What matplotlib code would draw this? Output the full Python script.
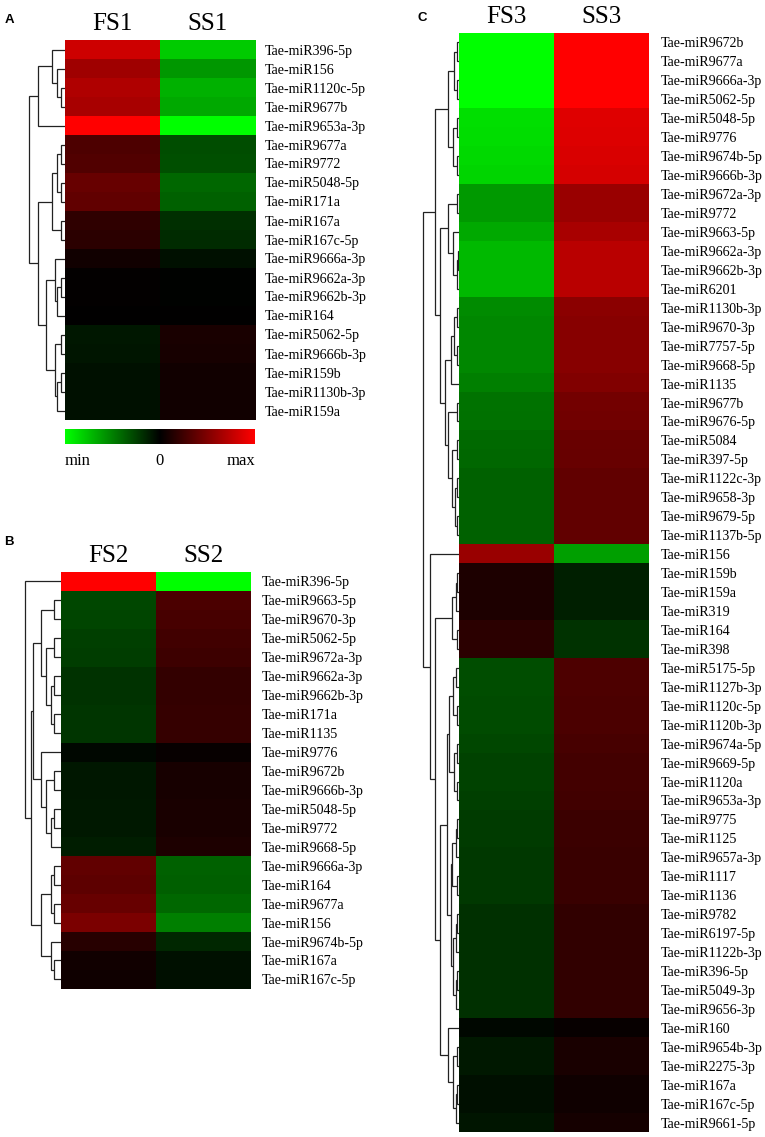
import numpy as np
import matplotlib
matplotlib.use("Agg")
import matplotlib.pyplot as plt
from matplotlib.colors import LinearSegmentedColormap

# ---------------- data ----------------
labels_A = ["Tae-miR396-5p", "Tae-miR156", "Tae-miR1120c-5p", "Tae-miR9677b", "Tae-miR9653a-3p",
            "Tae-miR9677a", "Tae-miR9772", "Tae-miR5048-5p", "Tae-miR171a", "Tae-miR167a",
            "Tae-miR167c-5p", "Tae-miR9666a-3p", "Tae-miR9662a-3p", "Tae-miR9662b-3p", "Tae-miR164",
            "Tae-miR5062-5p", "Tae-miR9666b-3p", "Tae-miR159b", "Tae-miR1130b-3p", "Tae-miR159a"]
fs1 = [0.80, 0.62, 0.68, 0.66, 1.00, 0.30, 0.32, 0.40, 0.38, 0.18,
       0.17, 0.07, 0.01, 0.01, 0.00, -0.09, -0.08, -0.07, -0.07, -0.07]
ss1 = [-0.79, -0.59, -0.69, -0.66, -1.00, -0.30, -0.31, -0.40, -0.38, -0.18,
       -0.17, -0.07, -0.01, -0.01, 0.00, 0.10, 0.09, 0.07, 0.07, 0.07]

labels_B = ["Tae-miR396-5p", "Tae-miR9663-5p", "Tae-miR9670-3p", "Tae-miR5062-5p", "Tae-miR9672a-3p",
            "Tae-miR9662a-3p", "Tae-miR9662b-3p", "Tae-miR171a", "Tae-miR1135", "Tae-miR9776",
            "Tae-miR9672b", "Tae-miR9666b-3p", "Tae-miR5048-5p", "Tae-miR9772", "Tae-miR9668-5p",
            "Tae-miR9666a-3p", "Tae-miR164", "Tae-miR9677a", "Tae-miR156", "Tae-miR9674b-5p",
            "Tae-miR167a", "Tae-miR167c-5p"]
fs2 = [1.00, -0.28, -0.27, -0.25, -0.24, -0.20, -0.20, -0.21, -0.21, -0.03,
       -0.09, -0.09, -0.10, -0.10, -0.11, 0.38, 0.36, 0.40, 0.48, 0.15,
       0.07, 0.06]
ss2 = [-1.00, 0.29, 0.28, 0.25, 0.24, 0.20, 0.20, 0.21, 0.21, 0.03,
       0.09, 0.09, 0.10, 0.10, 0.11, -0.38, -0.37, -0.40, -0.50, -0.15,
       -0.07, -0.06]

labels_C = ["Tae-miR9672b", "Tae-miR9677a", "Tae-miR9666a-3p", "Tae-miR5062-5p", "Tae-miR5048-5p",
            "Tae-miR9776", "Tae-miR9674b-5p", "Tae-miR9666b-3p", "Tae-miR9672a-3p", "Tae-miR9772",
            "Tae-miR9663-5p", "Tae-miR9662a-3p", "Tae-miR9662b-3p", "Tae-miR6201", "Tae-miR1130b-3p",
            "Tae-miR9670-3p", "Tae-miR7757-5p", "Tae-miR9668-5p", "Tae-miR1135", "Tae-miR9677b",
            "Tae-miR9676-5p", "Tae-miR5084", "Tae-miR397-5p", "Tae-miR1122c-3p", "Tae-miR9658-3p",
            "Tae-miR9679-5p", "Tae-miR1137b-5p", "Tae-miR156", "Tae-miR159b", "Tae-miR159a",
            "Tae-miR319", "Tae-miR164", "Tae-miR398", "Tae-miR5175-5p", "Tae-miR1127b-3p",
            "Tae-miR1120c-5p", "Tae-miR1120b-3p", "Tae-miR9674a-5p", "Tae-miR9669-5p", "Tae-miR1120a",
            "Tae-miR9653a-3p", "Tae-miR9775", "Tae-miR1125", "Tae-miR9657a-3p", "Tae-miR1117",
            "Tae-miR1136", "Tae-miR9782", "Tae-miR6197-5p", "Tae-miR1122b-3p", "Tae-miR396-5p",
            "Tae-miR5049-3p", "Tae-miR9656-3p", "Tae-miR160", "Tae-miR9654b-3p", "Tae-miR2275-3p",
            "Tae-miR167a", "Tae-miR167c-5p", "Tae-miR9661-5p"]
fs3 = [-1.00, -1.00, -1.00, -1.00, -0.87, -0.86, -0.85, -0.83, -0.60, -0.60,
       -0.66, -0.72, -0.72, -0.72, -0.54, -0.53, -0.53, -0.53, -0.50, -0.45,
       -0.44, -0.41, -0.40, -0.38, -0.38, -0.38, -0.38, 0.60, 0.11, 0.11,
       0.11, 0.17, 0.17, -0.30, -0.30, -0.29, -0.29, -0.28, -0.26, -0.26,
       -0.25, -0.23, -0.23, -0.22, -0.22, -0.22, -0.19, -0.19, -0.19, -0.19,
       -0.19, -0.19, -0.03, -0.10, -0.10, -0.06, -0.06, -0.08]
ss3 = [1.00, 1.00, 1.00, 1.00, 0.87, 0.86, 0.85, 0.83, 0.60, 0.60,
       0.66, 0.72, 0.72, 0.72, 0.54, 0.53, 0.53, 0.53, 0.50, 0.45,
       0.44, 0.41, 0.40, 0.38, 0.38, 0.38, 0.38, -0.62, -0.12, -0.12,
       -0.12, -0.20, -0.20, 0.30, 0.30, 0.29, 0.29, 0.28, 0.26, 0.26,
       0.25, 0.23, 0.23, 0.22, 0.22, 0.22, 0.19, 0.19, 0.19, 0.19,
       0.19, 0.19, 0.03, 0.10, 0.10, 0.06, 0.06, 0.08]

# dendrogram trees: (height, left, right); leaves are row indices
tree_A = (35.7,
          (26.7, (13.3, 0, (7.7, 1, (4.3, 2, 3))), 4),
          (26.7,
           (13.3, (7.7, (4.3, 5, 6), (4.3, 7, 8)), (4.3, 9, 10)),
           (19.0, (10.0, 11, (7.7, (4.3, 12, 13), 14)),
                  (10.0, (4.3, 15, 16), (7.7, (4.3, 17, 18), 19)))))

tree_B = (36.0, 0,
          (30.3,
           (27.7,
            (20.3, (7.0, 1, 2), (15.3, (7.0, 3, 4), (10.3, (7.0, 5, 6), (7.0, 7, 8)))),
            (20.3, 9, (15.3, (7.0, 10, 11), (10.3, (7.0, 12, 13), 14)))),
           (20.3, (10.3, (7.0, 15, 16), (7.0, 17, 18)), (10.3, 19, (7.0, 20, 21)))))

c_top = (24.0,
         (10.7, (5.0, (1.7, 0, 1), (1.7, 2, 3)), (6.0, (2.0, 4, 5), (2.0, 6, 7))),
         (19.0,
          (10.7, (1.7, 8, 9), (6.0, 10, (2.5, (1.5, 11, 12), 13))),
          (14.0,
           (8.3, (5.0, (1.7, 14, 15), (2.3, 16, 17)), 18),
           (10.7, (1.7, 19, 20), (6.7, (1.7, 21, 22), (4.0, (1.7, 23, 24), (1.7, 25, 26)))))))
c_bottom = (29.0, 27,
            (24.0,
             (7.3, (3.0, (1.7, 28, 29), 30), (1.7, 31, 32)),
             (19.0,
              (12.0,
               (10.0, (6.0, (3.0, 33, 34), (2.0, 35, 36)), (5.0, (2.0, 37, 38), (2.0, 39, 40))),
               (8.0, (7.0, (3.0, (2.0, 41, 42), 43), (2.0, 44, 45)),
                     (6.0, (3.0, (2.0, 46, 47), 48), (3.0, (2.0, 49, 50), 51)))),
              (10.7, 52, (6.0, (2.0, 53, 54), (3.0, (2.0, 55, 56), 57))))))
tree_C = (36.0, c_top, c_bottom)

# ---------------- drawing ----------------
W, H = 765, 1137
fig = plt.figure(figsize=(W / 100, H / 100), dpi=100)
cmap = LinearSegmentedColormap.from_list("gkr", [(0, 1, 0), (0, 0, 0), (1, 0, 0)])
SERIF = "Liberation Serif"
PT = 0.72  # points per pixel at 100 dpi


def px_axes(x0, y0, w, h):
    return fig.add_axes([x0 / W, 1 - (y0 + h) / H, w / W, h / H])


def draw_tree(ax, node):
    if isinstance(node, int):
        return node, 0.0
    h, left, right = node
    yl, hl = draw_tree(ax, left)
    yr, hr = draw_tree(ax, right)
    ax.plot([hl, h, h, hr], [yl, yl, yr, yr], color="#222222", lw=0.9,
            solid_joinstyle="miter", solid_capstyle="butt")
    return (yl + yr) / 2, h


def panel(x0, y0, labels, fs, ss, names, tree, rowh=18.95, pad=11):
    n = len(labels)
    hw = 190
    hh = n * rowh
    ax = px_axes(x0, y0, hw, hh)
    data = np.column_stack([fs, ss])
    ax.imshow(data, cmap=cmap, vmin=-1, vmax=1, aspect="auto", interpolation="nearest")
    ax.set_xticks([])
    ax.yaxis.tick_right()
    ax.set_yticks(range(n))
    ax.set_yticklabels(labels, fontsize=10.1, family=SERIF)
    ax.tick_params(axis="y", length=0, pad=pad * PT)
    for s in ax.spines.values():
        s.set_visible(False)
    for j, nm in enumerate(names):
        ax.annotate(nm, xy=(j, 1), xycoords=("data", "axes fraction"),
                    xytext=(0, 10 * PT), textcoords="offset points",
                    ha="center", va="baseline", fontsize=18, family=SERIF)
    # dendrogram
    dax = px_axes(x0 - 40, y0, 40, hh)
    draw_tree(dax, tree)
    dax.set_xlim(40, 0)
    dax.set_ylim(n - 0.5, -0.5)
    dax.axis("off")
    return ax


panel(65, 40, labels_A, fs1, ss1, ["FS1", "SS1"], tree_A, rowh=19.0, pad=10)
panel(61, 572, labels_B, fs2, ss2, ["FS2", "SS2"], tree_B, rowh=18.95, pad=11)
panel(459, 33, labels_C, fs3, ss3, ["FS3", "SS3"], tree_C, rowh=18.95, pad=12)

# colour key
cax = px_axes(65, 429, 190, 15)
grad = np.linspace(-1, 1, 256)[None, :]
cax.imshow(grad, cmap=cmap, vmin=-1, vmax=1, aspect="auto", extent=(-1, 1, 0, 1))
cax.set_xticks([])
cax.set_yticks([])
for s in cax.spines.values():
    s.set_visible(False)
key_pos = [-1, 0, 1]
key_txt = ["min", "0", "max"]
key_ha = ["left", "center", "right"]
for p, t, ha in zip(key_pos, key_txt, key_ha):
    cax.annotate(t, xy=(p, 0), xycoords=("data", "axes fraction"),
                 xytext=(0, -21 * PT), textcoords="offset points",
                 ha=ha, va="baseline", fontsize=12, family=SERIF)

# panel letters
for letter, (x, y) in zip(["A", "B", "C"], [(9, 20), (9, 542), (422, 18)]):
    fig.text(x / W, 1 - y / H, letter, ha="center", va="center",
             fontsize=9.5, fontweight="bold", family="Liberation Sans")

fig.savefig("out.png", dpi=100)
